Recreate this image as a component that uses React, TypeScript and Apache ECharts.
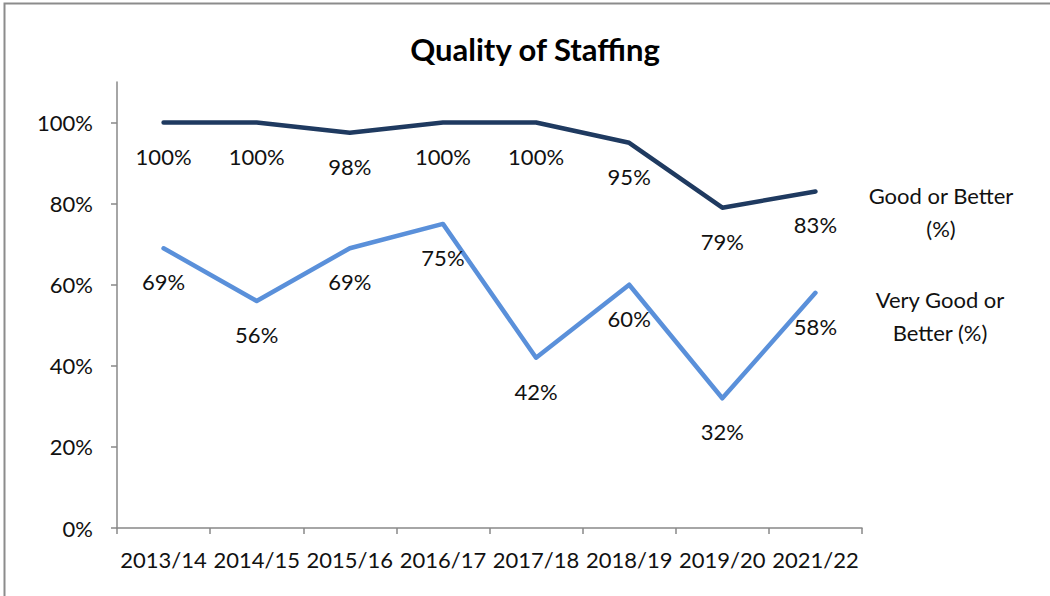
import React, { useEffect, useRef } from "react";
import * as echarts from "echarts";

const categories = ["2013/14", "2014/15", "2015/16", "2016/17", "2017/18", "2018/19", "2019/20", "2021/22"];
const goodOrBetter = [100, 100, 97.5, 100, 100, 95, 79, 83];
const veryGoodOrBetter = [69, 56, 69, 75, 42, 60, 32, 58];
const yTicks = [0, 20, 40, 60, 80, 100];
const seriesNames = ["Good or Better (%)", "Very Good or Better (%)"];

const FONT = "Lato, 'Open Sans', sans-serif";
const TXT = "#111";

export default function App() {
  const ref = useRef<HTMLDivElement>(null);
  useEffect(() => {
    document.body.style.margin = "0";
    const chart = echarts.init(ref.current!, null, { renderer: "svg" });
    const labelStyle = {
      show: true,
      position: "bottom" as const,
      distance: 22,
      fontFamily: FONT,
      fontSize: 22,
      color: TXT,
      formatter: (p: any) => Math.round(p.value) + "%",
    };
    chart.setOption({
      animation: false,
      textStyle: { fontFamily: FONT },
      title: {
        text: "Quality of Staffing",
        left: 530,
        top: 28,
        textAlign: "center",
        textStyle: { fontFamily: FONT, fontSize: 31, fontWeight: "bold", color: "#000" },
      },
      grid: { left: 117, right: 188, top: 82, bottom: 68 },
      xAxis: {
        type: "category",
        data: categories,
        boundaryGap: true,
        axisLine: { lineStyle: { color: "#888", width: 1.5 } },
        axisTick: { show: true, length: 6, lineStyle: { color: "#888", width: 1.5 } },
        axisLabel: { fontFamily: FONT, fontSize: 22, color: TXT, margin: 20, interval: 0 },
      },
      yAxis: {
        type: "value",
        min: 0,
        max: 110,
        interval: 10,
        splitLine: { show: false },
        axisLine: { show: true, lineStyle: { color: "#888", width: 1.5 } },
        axisTick: { show: true, length: 6, customValues: yTicks, lineStyle: { color: "#888", width: 1.5 } },
        axisLabel: {
          fontFamily: FONT,
          fontSize: 22,
          color: TXT,
          margin: 24,
          customValues: yTicks,
          formatter: (v: number) => v + "%",
        },
      },
      graphic: [
        {
          type: "rect",
          shape: { x: 4.5, y: 3.5, width: 1100, height: 700 },
          style: { fill: "none", stroke: "#8c8c8c", lineWidth: 2 },
          silent: true,
        },
        {
          type: "text",
          x: 941,
          y: 179,
          style: {
            text: "Good or Better\n(%)",
            align: "center",
            fontFamily: FONT,
            fontSize: 22,
            lineHeight: 33,
            fill: TXT,
          },
        },
        {
          type: "text",
          x: 940,
          y: 283,
          style: {
            text: "Very Good or\nBetter (%)",
            align: "center",
            fontFamily: FONT,
            fontSize: 22,
            lineHeight: 33,
            fill: TXT,
          },
        },
      ],
      series: [
        {
          name: seriesNames[0],
          type: "line",
          data: goodOrBetter,
          symbol: "circle",
          symbolSize: 1,
          showSymbol: true,
          lineStyle: { color: "#1f3a60", width: 4.5, cap: "round", join: "round" },
          itemStyle: { color: "#1f3a60" },
          label: labelStyle,
        },
        {
          name: seriesNames[1],
          type: "line",
          data: veryGoodOrBetter,
          symbol: "circle",
          symbolSize: 1,
          showSymbol: true,
          lineStyle: { color: "#5a90da", width: 4.5, cap: "round", join: "round" },
          itemStyle: { color: "#5a90da" },
          label: labelStyle,
        },
      ],
    });
    return () => chart.dispose();
  }, []);
  return <div ref={ref} style={{ width: 1050, height: 596 }} />;
}
